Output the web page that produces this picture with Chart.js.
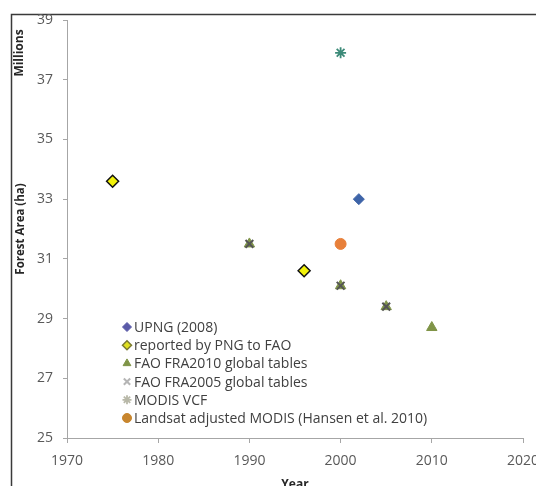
<!DOCTYPE html>
<html>
<head>
<meta charset="utf-8">
<script src="https://cdn.jsdelivr.net/npm/chart.js@4/dist/chart.umd.min.js"></script>
<style>
  html, body { margin:0; padding:0; background:#fff; overflow:hidden; }
  #wrap { position:absolute; left:0; top:0; width:560px; height:510px; }
</style>
</head>
<body>
<div id="wrap"><canvas id="chart" width="560" height="510"></canvas></div>
<script>
/* ==== Data ==== */
const upngYears = [2002];
const upngArea = [33.0];
const reportedYears = [1975, 1996];
const reportedArea = [33.6, 30.6];
const fra2010Years = [1990, 2000, 2005, 2010];
const fra2010Area = [31.5, 30.1, 29.4, 28.7];
const fra2005Years = [1990, 2000, 2005];
const fra2005Area = [31.5, 30.1, 29.4];
const modisYears = [2000];
const modisArea = [37.9];
const landsatYears = [2000];
const landsatArea = [31.5];

const xTicks = [1970, 1980, 1990, 2000, 2010, 2020];
const yTicks = [25, 27, 29, 31, 33, 35, 37, 39];

const FONT = '"Open Sans", Lato, sans-serif';

function pts(xs, ys){ return xs.map((x,i)=>({ x:x, y:ys[i] })); }

/* ==== Frame, axis-side labels and in-plot legend ==== */
const extras = {
  id: 'extras',
  beforeDraw(chart){
    const ctx = chart.ctx;
    ctx.save();
    ctx.strokeStyle = '#3a3a3a';
    ctx.lineWidth = 1.5;
    ctx.beginPath();
    ctx.moveTo(11.5, 600);
    ctx.lineTo(11.5, 14.5);
    ctx.lineTo(600, 14.5);
    ctx.stroke();
    ctx.restore();
  },
  afterDraw(chart){
    const ctx = chart.ctx;
    const area = chart.chartArea;
    ctx.save();
    ctx.font = 'bold 12px ' + FONT;
    ctx.fillStyle = '#262626';
    ctx.textAlign = 'center';
    ctx.textBaseline = 'middle';
    // Year (x title, cut off at the bottom like the original)
    ctx.fillText('Year', (area.left + area.right) / 2, 485);
    // Millions
    ctx.translate(20, 53);
    ctx.rotate(-Math.PI/2);
    ctx.fillText('Millions', 0, 0);
    ctx.restore();

    // legend
    ctx.save();
    const x0 = 127, y0 = 327, step = 18.2;
    chart.data.datasets.forEach((ds, i) => {
      const y = y0 + i*step;
      ctx.fillStyle = ds.legendColor || ds.backgroundColor;
      ctx.strokeStyle = ds.legendBorder || ds.borderColor;
      ctx.lineWidth = ds.borderWidth;
      Chart.helpers.drawPoint(ctx, {
        pointStyle: ds.pointStyle, radius: 4.5, rotation: 0, borderWidth: ds.borderWidth
      }, x0, y);
      ctx.font = '14px ' + FONT;
      ctx.fillStyle = '#404040';
      ctx.textAlign = 'left';
      ctx.textBaseline = 'middle';
      ctx.fillText(ds.label, x0 + 7, y + 1);
    });
    ctx.restore();
  }
};

const tickStyle = { color:'#595959', font:{ family: FONT, size:14 }, callback: v => String(v) };

new Chart(document.getElementById('chart'), {
  type: 'scatter',
  data: {
    datasets: [
      { label:'UPNG (2008)', data: pts(upngYears, upngArea), pointStyle:'rectRot',
        pointRadius:5.5, backgroundColor:'#3e64a8', borderColor:'#3e64a8', borderWidth:1, order:1,
        legendColor:'#5a5aa8', legendBorder:'#5a5aa8' },
      { label:'reported by PNG to FAO', data: pts(reportedYears, reportedArea), pointStyle:'rectRot',
        pointRadius:6, backgroundColor:'#f2f20a', borderColor:'#111', borderWidth:1.5, order:1,
        legendColor:'#e0e020', legendBorder:'#7a7a30' },
      { label:'FAO FRA2010 global tables', data: pts(fra2010Years, fra2010Area), pointStyle:'triangle',
        pointRadius:6, backgroundColor:'#7f9447', borderColor:'#7f9447', borderWidth:1, order:1 },
      { label:'FAO FRA2005 global tables', data: pts(fra2005Years, fra2005Area), pointStyle:'crossRot',
        pointRadius:5.5, backgroundColor:'#4a4a4a', borderColor:'#555555', borderWidth:2, order:0,
        legendBorder:'#b5b5b5' },
      { label:'MODIS VCF', data: pts(modisYears, modisArea), pointStyle:'star',
        pointRadius:5.5, backgroundColor:'#3c8a78', borderColor:'#3c8a78', borderWidth:1.8, order:1,
        legendBorder:'#b8b8a8' },
      { label:'Landsat adjusted MODIS (Hansen et al. 2010)', data: pts(landsatYears, landsatArea), pointStyle:'circle',
        pointRadius:5.5, backgroundColor:'#e8803a', borderColor:'#e8803a', borderWidth:1, order:1,
        legendColor:'#c8862e', legendBorder:'#c8862e' }
    ]
  },
  options: {
    responsive: false,
    animation: false,
    layout: { padding: { left:0, top:20, right:37, bottom:0 } },
    plugins: { legend:{ display:false }, tooltip:{ enabled:false } },
    scales: {
      x: {
        type:'linear', min:1970, max:2020,
        afterBuildTicks: s => { s.ticks = xTicks.map(v => ({ value:v })); },
        afterFit: s => { s.height = 72; },
        ticks: Object.assign({ padding:10 }, tickStyle),
        grid: { drawOnChartArea:false, tickLength:5, color:'#a6a6a6' },
        border: { color:'#a6a6a6', width:1 },
        title: { display:false, text:'Year' }
      },
      y: {
        min:25, max:39,
        afterBuildTicks: s => { s.ticks = yTicks.map(v => ({ value:v })); },
        afterFit: s => { s.width = 67; },
        ticks: Object.assign({ padding:10 }, tickStyle),
        grid: { drawOnChartArea:false, tickLength:4, color:'#a6a6a6' },
        border: { color:'#a6a6a6', width:1 },
        title: { display:true, text:'Forest Area (ha)', color:'#262626', font:{ family:FONT, size:11.5, weight:'bold' }, padding:{ top:14, bottom:0 } }
      }
    }
  },
  plugins: [extras]
});
</script>
</body>
</html>
